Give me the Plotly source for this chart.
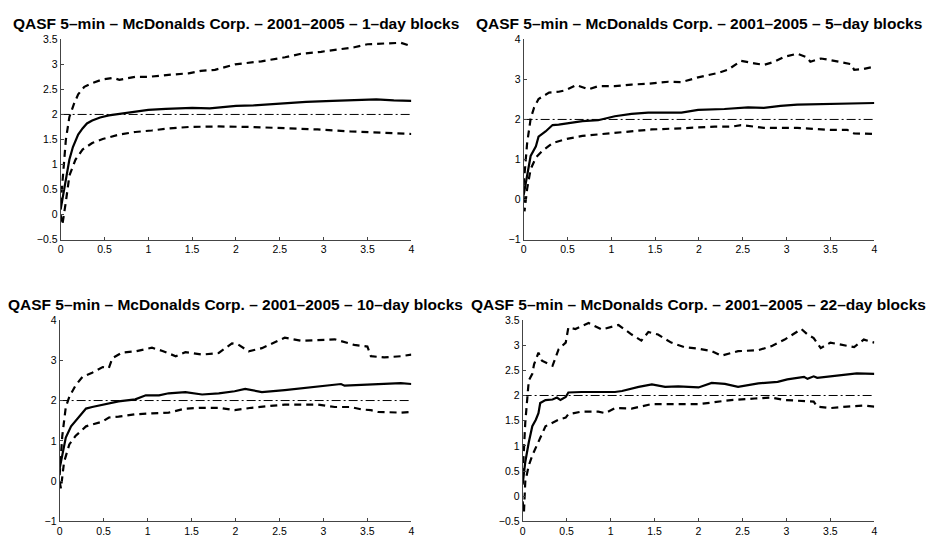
import plotly.graph_objects as go

titles = [
    "QASF 5\u2013min \u2013 McDonalds Corp. \u2013 2001\u20132005 \u2013 1\u2013day blocks",
    "QASF 5\u2013min \u2013 McDonalds Corp. \u2013 2001\u20132005 \u2013 5\u2013day blocks",
    "QASF 5\u2013min \u2013 McDonalds Corp. \u2013 2001\u20132005 \u2013 10\u2013day blocks",
    "QASF 5\u2013min \u2013 McDonalds Corp. \u2013 2001\u20132005 \u2013 22\u2013day blocks",
]

# ---- 1-day blocks ----
p1_mean_x = [0, 0.02, 0.04, 0.06, 0.1, 0.14, 0.2, 0.25, 0.3, 0.36, 0.45, 0.55, 0.7, 0.85, 1.0, 1.2, 1.5, 1.7, 2.0, 2.2, 2.5, 2.8, 3.1, 3.4, 3.6, 3.8, 4.0]
p1_mean_y = [0.1, 0.3, 0.5, 0.75, 1.1, 1.35, 1.6, 1.72, 1.82, 1.88, 1.94, 1.98, 2.02, 2.05, 2.09, 2.11, 2.13, 2.12, 2.17, 2.18, 2.22, 2.25, 2.27, 2.29, 2.3, 2.28, 2.27]
p1_up_x = [0, 0.03, 0.06, 0.1, 0.15, 0.2, 0.27, 0.35, 0.48, 0.6, 0.67, 0.85, 1.0, 1.23, 1.46, 1.6, 1.76, 1.99, 2.29, 2.56, 2.74, 2.97, 3.2, 3.35, 3.5, 3.69, 3.88, 4.0]
p1_up_y = [0.2, 0.8, 1.5, 1.95, 2.2, 2.4, 2.55, 2.62, 2.7, 2.73, 2.69, 2.75, 2.75, 2.79, 2.82, 2.87, 2.89, 3.0, 3.06, 3.14, 3.21, 3.25, 3.31, 3.34, 3.4, 3.42, 3.43, 3.36]
p1_lo_x = [0, 0.02, 0.06, 0.1, 0.17, 0.25, 0.36, 0.48, 0.67, 0.85, 1.04, 1.23, 1.46, 1.8, 2.18, 2.56, 2.93, 3.31, 3.69, 4.0]
p1_lo_y = [0.0, -0.2, 0.26, 0.78, 1.1, 1.3, 1.43, 1.51, 1.6, 1.65, 1.68, 1.72, 1.75, 1.76, 1.75, 1.73, 1.7, 1.66, 1.64, 1.61]

# ---- 5-day blocks ----
p2_mean_x = [0, 0.04, 0.08, 0.14, 0.17, 0.25, 0.33, 0.4, 0.55, 0.67, 0.85, 1.04, 1.23, 1.42, 1.8, 1.99, 2.29, 2.56, 2.74, 2.93, 3.12, 3.5, 4.0]
p2_mean_y = [0.11, 0.6, 1.09, 1.33, 1.57, 1.7, 1.86, 1.87, 1.91, 1.96, 1.98, 2.08, 2.14, 2.17, 2.17, 2.24, 2.26, 2.3, 2.29, 2.34, 2.37, 2.38, 2.41]
p2_up_x = [0, 0.04, 0.08, 0.12, 0.17, 0.29, 0.4, 0.48, 0.6, 0.67, 0.74, 0.85, 1.04, 1.23, 1.42, 1.65, 1.8, 1.99, 2.22, 2.33, 2.48, 2.63, 2.74, 2.86, 2.97, 3.12, 3.22, 3.27, 3.39, 3.5, 3.61, 3.73, 3.77, 3.88, 4.0]
p2_up_y = [0.36, 1.41, 2.02, 2.3, 2.51, 2.67, 2.69, 2.73, 2.86, 2.81, 2.75, 2.83, 2.83, 2.87, 2.89, 2.94, 2.93, 3.05, 3.16, 3.24, 3.46, 3.4, 3.36, 3.44, 3.56, 3.64, 3.56, 3.44, 3.52, 3.48, 3.44, 3.38, 3.24, 3.26, 3.32]
p2_lo_x = [0, 0.01, 0.04, 0.08, 0.14, 0.21, 0.33, 0.48, 0.67, 0.85, 1.04, 1.23, 1.46, 1.8, 2.18, 2.37, 2.48, 2.74, 3.12, 3.5, 3.69, 3.77, 4.0]
p2_lo_y = [0.1, -0.29, 0.27, 0.76, 1.05, 1.21, 1.41, 1.51, 1.59, 1.63, 1.67, 1.71, 1.75, 1.78, 1.82, 1.82, 1.86, 1.79, 1.79, 1.74, 1.74, 1.65, 1.64]

# ---- 10-day blocks ----
p3_mean_x = [0, 0.03, 0.07, 0.13, 0.22, 0.3, 0.37, 0.49, 0.67, 0.86, 0.98, 1.13, 1.24, 1.43, 1.62, 1.81, 1.99, 2.11, 2.3, 2.56, 2.75, 2.94, 3.2, 3.24, 3.5, 3.69, 3.88, 4.0]
p3_mean_y = [0.31, 0.63, 1.08, 1.36, 1.6, 1.8, 1.84, 1.9, 1.98, 2.03, 2.13, 2.13, 2.18, 2.21, 2.15, 2.18, 2.23, 2.29, 2.21, 2.26, 2.31, 2.35, 2.41, 2.37, 2.39, 2.41, 2.43, 2.41]
p3_up_x = [0, 0.03, 0.07, 0.11, 0.18, 0.26, 0.37, 0.49, 0.56, 0.6, 0.71, 0.86, 1.05, 1.17, 1.32, 1.43, 1.62, 1.81, 1.96, 2.03, 2.15, 2.3, 2.56, 2.75, 3.13, 3.28, 3.35, 3.5, 3.54, 3.69, 3.88, 4.0]
p3_up_y = [0.15, 1.12, 1.84, 2.09, 2.37, 2.59, 2.69, 2.83, 2.81, 3.05, 3.19, 3.22, 3.31, 3.23, 3.1, 3.2, 3.14, 3.18, 3.42, 3.39, 3.22, 3.3, 3.56, 3.48, 3.52, 3.42, 3.38, 3.34, 3.1, 3.07, 3.1, 3.14]
p3_lo_x = [0, 0.015, 0.05, 0.11, 0.18, 0.3, 0.49, 0.56, 0.67, 0.86, 1.05, 1.24, 1.43, 1.62, 1.81, 1.99, 2.18, 2.37, 2.56, 2.94, 3.13, 3.31, 3.43, 3.54, 3.62, 3.88, 4.0]
p3_lo_y = [-0.01, -0.18, 0.47, 0.91, 1.12, 1.36, 1.48, 1.58, 1.6, 1.66, 1.68, 1.7, 1.8, 1.82, 1.82, 1.76, 1.82, 1.86, 1.9, 1.9, 1.84, 1.84, 1.78, 1.76, 1.72, 1.7, 1.72]

# ---- 22-day blocks ----
p4_mean_x = [0, 0.03, 0.07, 0.11, 0.15, 0.18, 0.2, 0.26, 0.34, 0.39, 0.43, 0.49, 0.52, 0.67, 1.05, 1.13, 1.32, 1.47, 1.62, 1.77, 2.0, 2.15, 2.3, 2.45, 2.68, 2.9, 3.01, 3.2, 3.24, 3.31, 3.35, 3.5, 3.69, 3.8, 4.0]
p4_mean_y = [0.23, 0.68, 1.07, 1.39, 1.52, 1.65, 1.85, 1.91, 1.92, 1.96, 1.91, 1.97, 2.06, 2.07, 2.07, 2.09, 2.17, 2.22, 2.17, 2.18, 2.16, 2.25, 2.23, 2.17, 2.24, 2.27, 2.32, 2.37, 2.33, 2.38, 2.35, 2.38, 2.42, 2.44, 2.43]
p4_up_x = [0, 0.03, 0.07, 0.11, 0.13, 0.18, 0.22, 0.34, 0.41, 0.49, 0.52, 0.6, 0.75, 0.9, 1.09, 1.24, 1.35, 1.43, 1.54, 1.69, 1.84, 2.0, 2.15, 2.26, 2.45, 2.68, 2.83, 2.98, 3.17, 3.24, 3.31, 3.39, 3.5, 3.66, 3.77, 3.88, 4.0]
p4_up_y = [0.42, 1.46, 2.3, 2.43, 2.62, 2.85, 2.69, 2.59, 2.92, 3.05, 3.35, 3.32, 3.44, 3.31, 3.4, 3.21, 3.09, 3.26, 3.21, 3.05, 2.96, 2.93, 2.88, 2.79, 2.88, 2.9, 2.98, 3.11, 3.32, 3.21, 3.14, 2.94, 3.05, 3.0, 2.96, 3.11, 3.05]
p4_lo_x = [0, 0.015, 0.03, 0.07, 0.11, 0.18, 0.26, 0.34, 0.41, 0.49, 0.52, 0.67, 0.86, 0.94, 1.05, 1.24, 1.47, 1.69, 2.0, 2.15, 2.37, 2.64, 2.83, 2.98, 3.13, 3.31, 3.35, 3.5, 3.69, 3.88, 4.0]
p4_lo_y = [-0.1, -0.32, 0.29, 0.61, 0.81, 1.07, 1.39, 1.46, 1.52, 1.56, 1.63, 1.68, 1.68, 1.65, 1.75, 1.74, 1.83, 1.83, 1.83, 1.86, 1.91, 1.94, 1.96, 1.91, 1.9, 1.88, 1.78, 1.75, 1.78, 1.8, 1.78]

ref_level = 2.0

panels = [
    (p1_mean_x, p1_mean_y, p1_up_x, p1_up_y, p1_lo_x, p1_lo_y, [-0.5, 3.5], [-0.5, 0, 0.5, 1, 1.5, 2, 2.5, 3, 3.5]),
    (p2_mean_x, p2_mean_y, p2_up_x, p2_up_y, p2_lo_x, p2_lo_y, [-1, 4], [-1, 0, 1, 2, 3, 4]),
    (p3_mean_x, p3_mean_y, p3_up_x, p3_up_y, p3_lo_x, p3_lo_y, [-1, 4], [-1, 0, 1, 2, 3, 4]),
    (p4_mean_x, p4_mean_y, p4_up_x, p4_up_y, p4_lo_x, p4_lo_y, [-0.5, 3.5], [-0.5, 0, 0.5, 1, 1.5, 2, 2.5, 3, 3.5]),
]
x_ticks = [0, 0.5, 1, 1.5, 2, 2.5, 3, 3.5, 4]

W, H = 932, 546
boxes = [  # left, right, top, bottom in pixels
    (58, 411, 34, 239),
    (524, 877, 34, 239),
    (57, 411, 321, 527),
    (523, 877, 321, 527),
]
title_y = [18, 18, 305, 305]

FONT = "Liberation Sans, Arial, Helvetica, sans-serif"

fig = go.Figure()
layout = dict(
    width=W, height=H, margin=dict(l=0, r=0, t=0, b=0),
    paper_bgcolor="white", plot_bgcolor="white", showlegend=False,
    font=dict(family=FONT, color="black"),
)
annotations = []

def tick_text(v):
    s = ("%g" % v)
    return s.replace("-", "\u2212")

for i, (mx, my, ux, uy, lx, ly, yr, yt) in enumerate(panels):
    n = i + 1
    xa = "x" if n == 1 else "x%d" % n
    ya = "y" if n == 1 else "y%d" % n
    fig.add_trace(go.Scatter(x=[0, 4], y=[ref_level, ref_level], mode="lines",
                             line=dict(color="black", width=1, dash="9px,3px,2px,3px"),
                             xaxis=xa, yaxis=ya, hoverinfo="skip"))
    fig.add_trace(go.Scatter(x=ux, y=uy, mode="lines",
                             line=dict(color="black", width=2.2, dash="7px,5px"),
                             xaxis=xa, yaxis=ya))
    fig.add_trace(go.Scatter(x=lx, y=ly, mode="lines",
                             line=dict(color="black", width=2.2, dash="7px,5px"),
                             xaxis=xa, yaxis=ya))
    fig.add_trace(go.Scatter(x=mx, y=my, mode="lines",
                             line=dict(color="black", width=2.2),
                             xaxis=xa, yaxis=ya))
    l, r, t, b = boxes[i]
    axcommon = dict(showgrid=False, zeroline=False, showline=True, linecolor="#444444",
                    linewidth=1, ticks="inside", ticklen=3, tickcolor="#444444",
                    tickfont=dict(size=10.5, color="black", family=FONT))
    layout["xaxis" if n == 1 else "xaxis%d" % n] = dict(
        domain=[l / W, r / W], range=[0, 4], tickvals=x_ticks,
        ticktext=[tick_text(v) for v in x_ticks], anchor=ya, **axcommon)
    layout["yaxis" if n == 1 else "yaxis%d" % n] = dict(
        domain=[1 - b / H, 1 - t / H], range=yr, tickvals=yt,
        ticktext=[tick_text(v) for v in yt], anchor=xa, **axcommon)
    annotations.append(dict(text="<b>%s</b>" % titles[i], xref="paper", yref="paper",
                            x=(l + r) / 2 / W, y=1 - title_y[i] / H, xanchor="center",
                            yanchor="middle", showarrow=False,
                            font=dict(size=15.5, color="black", family=FONT)))

layout["annotations"] = annotations
fig.update_layout(**layout)
fig.write_html("out.html", config={"displayModeBar": False},
               post_script="document.body.style.margin='0';")
